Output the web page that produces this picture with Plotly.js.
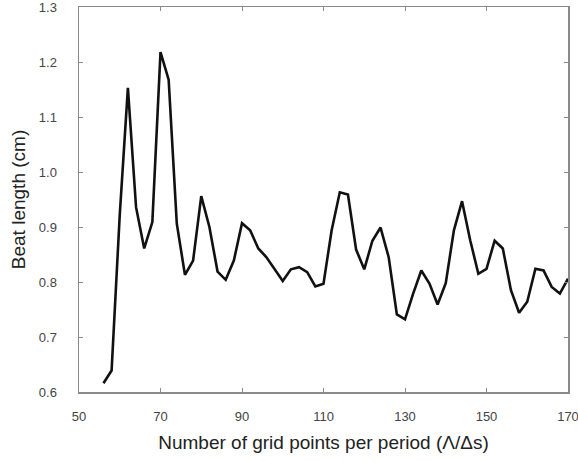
<!DOCTYPE html>
<html>
<head>
<meta charset="utf-8">
<script src="https://cdn.plot.ly/plotly-3.0.1.min.js"></script>
<style>
  html, body { margin: 0; padding: 0; background: #fff; }
  #chart { width: 578px; height: 461px; }
</style>
</head>
<body>
<div id="chart"></div>
<script>
// Grid resolution (points per period) and the resulting beat length
const gridPoints = [56, 58, 60, 62, 64, 66, 68, 70, 72, 74, 76, 78, 80, 82, 84, 86, 88, 90,
  92, 94, 96, 98, 100, 102, 104, 106, 108, 110, 112, 114, 116, 118, 120, 122, 124, 126,
  128, 130, 132, 134, 136, 138, 140, 142, 144, 146, 148, 150, 152, 154, 156, 158, 160,
  162, 164, 166, 168, 170];
const beatLength = [0.616, 0.639, 0.922, 1.153, 0.936, 0.861, 0.909, 1.218, 1.168, 0.906,
  0.813, 0.839, 0.956, 0.900, 0.819, 0.804, 0.839, 0.907, 0.894, 0.861, 0.845, 0.824,
  0.802, 0.823, 0.827, 0.818, 0.792, 0.797, 0.894, 0.963, 0.959, 0.859, 0.823, 0.875,
  0.899, 0.845, 0.741, 0.732, 0.779, 0.821, 0.797, 0.759, 0.798, 0.894, 0.947, 0.876,
  0.815, 0.824, 0.875, 0.861, 0.785, 0.744, 0.764, 0.824, 0.821, 0.791, 0.779, 0.806];
const xTicks = [50, 70, 90, 110, 130, 150, 170];
const yTicks = [0.6, 0.7, 0.8, 0.9, 1.0, 1.1, 1.2, 1.3];

const FONT = 'Liberation Sans, Arial, Helvetica, sans-serif';

const axisCommon = {
  showgrid: false,
  zeroline: false,
  showline: true,
  linecolor: '#8a8a8a',
  linewidth: 1.5,
  mirror: 'ticks',
  ticks: 'inside',
  ticklen: 4,
  tickwidth: 1,
  tickcolor: '#8a8a8a',
  ticklabeloverflow: 'allow',
  tickfont: { family: FONT, size: 13, color: '#444' }
};

const trace = {
  x: gridPoints,
  y: beatLength,
  type: 'scatter',
  mode: 'lines',
  line: { color: '#111', width: 2.6 },
  hoverinfo: 'skip'
};

const layout = {
  width: 578,
  height: 461,
  margin: { l: 79, r: 10, t: 7, b: 69 },
  paper_bgcolor: '#fff',
  plot_bgcolor: '#fff',
  showlegend: false,
  xaxis: Object.assign({}, axisCommon, {
    range: [50, 170],
    tickvals: xTicks,
    ticktext: xTicks.map(String),
    ticklabelstandoff: 12,
    title: {
      text: 'Number of grid points per period (\u039B/\u0394s)',
      font: { family: FONT, size: 19, color: '#222' },
      standoff: 12
    }
  }),
  yaxis: Object.assign({}, axisCommon, {
    range: [0.6, 1.3],
    tickvals: yTicks,
    ticktext: yTicks.map(v => v.toFixed(1)),
    ticklabelstandoff: 18,
    title: {
      text: 'Beat length (cm)',
      font: { family: FONT, size: 19, color: '#222' },
      standoff: 8
    }
  })
};

Plotly.newPlot('chart', [trace], layout, { displayModeBar: false, staticPlot: true });
</script>
</body>
</html>
